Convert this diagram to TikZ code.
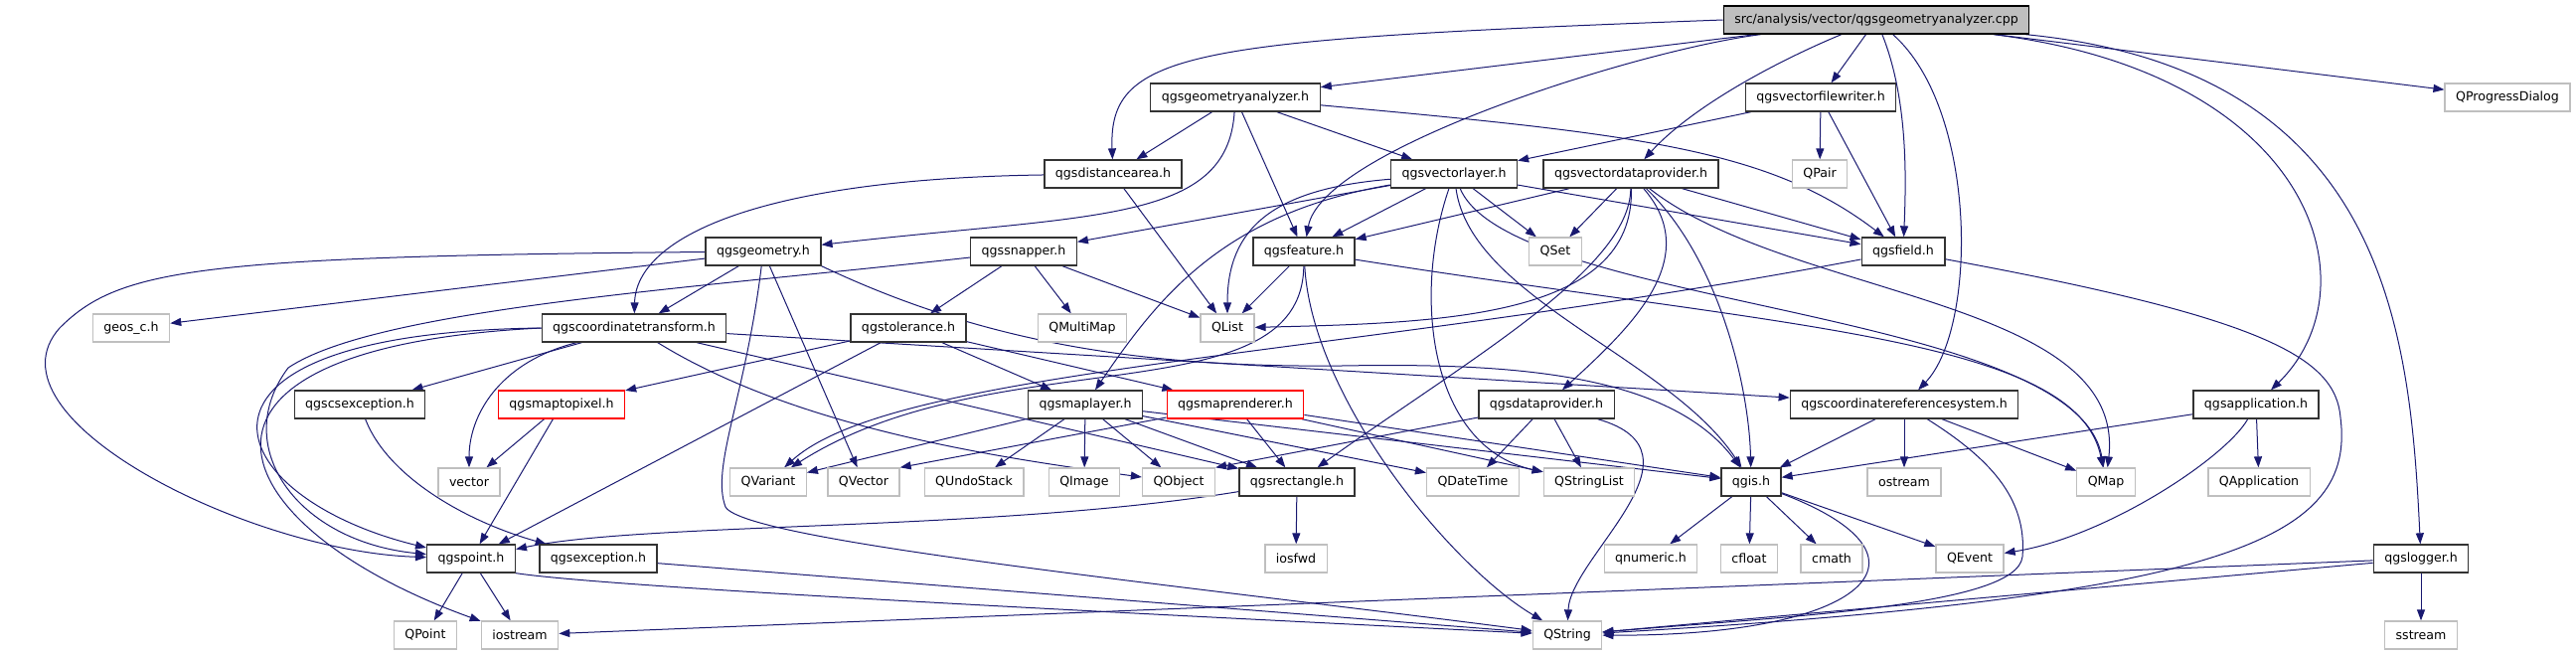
\documentclass[tikz,border=0pt]{standalone}
\usepackage{fontspec}
\setmainfont{DejaVu Sans}
\usepackage{tikz}
\usetikzlibrary{arrows.meta,backgrounds}
\definecolor{edgeblue}{RGB}{25,25,112}
\definecolor{sysgrey}{RGB}{191,191,191}
\definecolor{srcgrey}{RGB}{191,191,191}
\tikzset{
  incnode/.style={draw=black!80,fill=white,line width=1.3pt,minimum height=28pt,
                  inner xsep=11pt,inner ysep=0pt,font=\fontsize{12.6}{15}\selectfont},
  srcnode/.style={incnode,fill=srcgrey,draw=black},
  sysnode/.style={incnode,draw=sysgrey},
  rednode/.style={incnode,draw=red},
  dep/.style={-{Triangle[length=11pt,width=8pt]},draw=edgeblue,line width=1pt},
}

\begin{document}
\begin{tikzpicture}[x=1pt,y=-1pt]
  \useasboundingbox (0,0) rectangle (2592,659);

  \node[srcnode] (src) at (1888,20) {src/analysis/vector/qgsgeometryanalyzer.cpp};

  \node[incnode] (analyzer)   at (1243,98) {qgsgeometryanalyzer.h};
  \node[incnode] (filewriter) at (1832,98) {qgsvectorfilewriter.h};
  \node[sysnode] (progress)   at (2523,98) {QProgressDialog};

  \node[incnode] (distarea)  at (1120,175) {qgsdistancearea.h};
  \node[incnode] (vlayer)    at (1463,175) {qgsvectorlayer.h};
  \node[incnode] (vprovider) at (1641,175) {qgsvectordataprovider.h};
  \node[sysnode] (qpair)     at (1831,175) {QPair};

  \node[incnode] (geometry) at (768,253)  {qgsgeometry.h};
  \node[incnode] (snapper)  at (1030,253) {qgssnapper.h};
  \node[incnode] (feature)  at (1312,253) {qgsfeature.h};
  \node[sysnode] (qset)     at (1565,253) {QSet};
  \node[incnode] (field)    at (1915,253) {qgsfield.h};

  \node[sysnode] (geos)       at (132,330)  {geos\_c.h};
  \node[incnode] (ctransform) at (638,330)  {qgscoordinatetransform.h};
  \node[incnode] (tolerance)  at (914,330)  {qgstolerance.h};
  \node[sysnode] (qmultimap)  at (1089,330) {QMultiMap};
  \node[sysnode] (qlist)      at (1235,330) {QList};

  \node[incnode] (csexception) at (362,407)  {qgscsexception.h};
  \node[rednode] (maptopixel)  at (565,407)  {qgsmaptopixel.h};
  \node[incnode] (maplayer)    at (1092,407) {qgsmaplayer.h};
  \node[rednode] (renderer)    at (1243,407) {qgsmaprenderer.h};
  \node[incnode] (dprovider)   at (1556,407) {qgsdataprovider.h};
  \node[incnode] (crs)         at (1916,407) {qgscoordinatereferencesystem.h};
  \node[incnode] (application) at (2270,407) {qgsapplication.h};

  \node[sysnode] (vector)       at (472,485)  {vector};
  \node[sysnode] (qvariant)     at (773,485)  {QVariant};
  \node[sysnode] (qvector)      at (869,485)  {QVector};
  \node[sysnode] (qundostack)   at (980,485)  {QUndoStack};
  \node[sysnode] (qimage)       at (1091,485) {QImage};
  \node[sysnode] (qobject)      at (1186,485) {QObject};
  \node[incnode] (rectangle)    at (1305,485) {qgsrectangle.h};
  \node[sysnode] (qdatetime)    at (1482,485) {QDateTime};
  \node[sysnode] (qstringlist)  at (1599,485) {QStringList};
  \node[incnode] (qgis)         at (1762,485) {qgis.h};
  \node[sysnode] (ostream)      at (1916,485) {ostream};
  \node[sysnode] (qmap)         at (2119,485) {QMap};
  \node[sysnode] (qapplication) at (2273,485) {QApplication};

  \node[incnode] (point)     at (474,562)  {qgspoint.h};
  \node[incnode] (exception) at (602,562)  {qgsexception.h};
  \node[sysnode] (iosfwd)    at (1304,562) {iosfwd};
  \node[sysnode] (qnumeric)  at (1661,562) {qnumeric.h};
  \node[sysnode] (cfloat)    at (1760,562) {cfloat};
  \node[sysnode] (cmath)     at (1843,562) {cmath};
  \node[sysnode] (qevent)    at (1982,562) {QEvent};
  \node[incnode] (logger)    at (2436,562) {qgslogger.h};

  \node[sysnode] (qpoint)   at (428,639)  {QPoint};
  \node[sysnode] (iostream) at (523,639)  {iostream};
  \node[sysnode] (qstring)  at (1577,639) {QString};
  \node[sysnode] (sstream)  at (2436,639) {sstream};

  \begin{scope}[on background layer]
  \draw[dep] (src) -- (analyzer);
  \draw[dep] (src) -- (filewriter);
  \draw[dep] (src) -- (progress);
  \draw[dep] (src.west) .. controls (1200,40) and (1115,50) .. (distarea);
  \draw[dep] (src) .. controls (1650,50) and (1330,150) .. (feature);
  \draw[dep] (src) .. controls (1780,65) and (1700,110) .. (vprovider);
  \draw[dep] (src) .. controls (1920,100) and (1918,180) .. (field);
  \draw[dep] (src) .. controls (1990,110) and (1990,330) .. (crs);
  \draw[dep] (src) .. controls (2330,75) and (2390,290) .. (application);
  \draw[dep] (src) .. controls (2400,70) and (2425,330) .. (logger);

  \draw[dep] (analyzer) -- (distarea);
  \draw[dep] (analyzer) .. controls (1235,225) and (1100,215) .. (geometry);
  \draw[dep] (analyzer) -- (feature);
  \draw[dep] (analyzer) -- (vlayer);
  \draw[dep] (analyzer) .. controls (1650,135) and (1780,150) .. (field);

  \draw[dep] (filewriter) -- (vlayer);
  \draw[dep] (filewriter) -- (qpair);
  \draw[dep] (filewriter) -- (field);

  \draw[dep] (distarea) .. controls (760,180) and (640,240) .. (ctransform);
  \draw[dep] (distarea) -- (qlist);

  \draw[dep] (vlayer) -- (snapper);
  \draw[dep] (vlayer) .. controls (1280,190) and (1235,230) .. (qlist);
  \draw[dep] (vlayer) .. controls (1230,215) and (1165,300) .. (maplayer);
  \draw[dep] (vlayer) -- (feature);
  \draw[dep] (vlayer) .. controls (1420,300) and (1440,450) .. (qstringlist);
  \draw[dep] (vlayer) .. controls (1480,300) and (1680,360) .. (qgis);
  \draw[dep] (vlayer) .. controls (1520,310) and (2090,310) .. (qmap);
  \draw[dep] (vlayer) -- (qset);
  \draw[dep] (vlayer) -- (field);

  \draw[dep] (vprovider) -- (feature);
  \draw[dep] (vprovider) -- (qset);
  \draw[dep] (vprovider) .. controls (1645,320) and (1450,325) .. (qlist);
  \draw[dep] (vprovider) .. controls (1715,260) and (1640,330) .. (dprovider);
  \draw[dep] (vprovider) .. controls (1730,260) and (1760,390) .. (qgis);
  \draw[dep] (vprovider) .. controls (1800,300) and (2140,300) .. (qmap);
  \draw[dep] (vprovider) -- (field);
  \draw[dep] (vprovider) .. controls (1640,270) and (1480,360) .. (rectangle);

  \draw[dep] (feature) -- (qlist);
  \draw[dep] (feature) .. controls (1320,400) and (1460,570) .. (qstring);
  \draw[dep] (feature) .. controls (1800,330) and (2090,340) .. (qmap);
  \draw[dep] (feature) .. controls (1310,420) and (1000,340) .. (qvariant);

  \draw[dep] (field) .. controls (1350,360) and (900,370) .. (qvariant);
  \draw[dep] (field) .. controls (2280,320) and (2350,360) .. (2355,420)
                     .. controls (2370,540) and (2250,600) .. (qstring);

  \draw[dep] (geometry) -- (geos);
  \draw[dep] (geometry) .. controls (200,258) and (120,270) .. (60,330)
                        .. controls (-20,420) and (250,555) .. (point);
  \draw[dep] (geometry) -- (ctransform);
  \draw[dep] (geometry) -- (qvector);
  \draw[dep] (geometry) .. controls (750,400) and (715,470) .. (730,510)
                        .. controls (750,545) and (1200,590) .. (qstring);
  \draw[dep] (geometry.south east) .. controls (990,345) and (1150,370) .. (1350,368)
                        .. controls (1520,365) and (1680,375) .. (qgis);

  \draw[dep] (ctransform) -- (csexception);
  \draw[dep] (ctransform) .. controls (500,365) and (472,420) .. (vector);
  \draw[dep] (ctransform.west) .. controls (150,335) and (220,500) .. (point);
  \draw[dep] (ctransform.west) .. controls (140,350) and (220,530) .. (iostream);
  \draw[dep] (ctransform) -- (crs);
  \draw[dep] (ctransform) .. controls (800,430) and (1000,460) .. (qobject);
  \draw[dep] (ctransform) -- (rectangle);

  \draw[dep] (snapper) -- (tolerance);
  \draw[dep] (snapper) -- (qmultimap);
  \draw[dep] (snapper) -- (qlist);
  \draw[dep] (snapper) .. controls (700,290) and (380,310) .. (290,370)
                       .. controls (230,450) and (300,545) .. (point);

  \draw[dep] (tolerance) -- (maptopixel);
  \draw[dep] (tolerance) -- (point);
  \draw[dep] (tolerance) -- (maplayer);
  \draw[dep] (tolerance) -- (renderer);

  \draw[dep] (maptopixel) -- (vector);
  \draw[dep] (maptopixel) -- (point);
  \draw[dep] (csexception) .. controls (390,480) and (470,525) .. (exception);

  \draw[dep] (maplayer) -- (qvariant);
  \draw[dep] (maplayer) -- (qundostack);
  \draw[dep] (maplayer) -- (qimage);
  \draw[dep] (maplayer) -- (qobject);
  \draw[dep] (maplayer) -- (rectangle);
  \draw[dep] (maplayer) -- (qdatetime);
  \draw[dep] (maplayer) -- (qgis);

  \draw[dep] (renderer) -- (qvector.north east);
  \draw[dep] (renderer) -- (rectangle);
  \draw[dep] (renderer) -- (qstringlist);
  \draw[dep] (renderer) -- (qgis);

  \draw[dep] (dprovider) -- (qobject.north east);
  \draw[dep] (dprovider) -- (qdatetime);
  \draw[dep] (dprovider) -- (qstringlist);
  \draw[dep] (dprovider) .. controls (1725,455) and (1580,560) .. (qstring);

  \draw[dep] (crs) -- (qgis);
  \draw[dep] (crs) -- (ostream);
  \draw[dep] (crs) -- (qmap);
  \draw[dep] (crs) .. controls (2000,460) and (2040,500) .. (2035,560)
                   .. controls (2030,610) and (1800,620) .. (qstring);

  \draw[dep] (application) -- (qgis);
  \draw[dep] (application) -- (qapplication);
  \draw[dep] (application) .. controls (2240,460) and (2120,540) .. (qevent);

  \draw[dep] (qgis) -- (qnumeric);
  \draw[dep] (qgis) -- (cfloat);
  \draw[dep] (qgis) -- (cmath);
  \draw[dep] (qgis) -- (qevent);
  \draw[dep] (qgis) .. controls (1960,560) and (1880,640) .. (qstring);

  \draw[dep] (rectangle) -- (iosfwd);
  \draw[dep] (rectangle) .. controls (1000,535) and (650,525) .. (point);

  \draw[dep] (point) -- (qpoint);
  \draw[dep] (point) -- (iostream);
  \draw[dep] (point.south east) .. controls (620,592) and (1200,620) .. (qstring);
  \draw[dep] (exception) -- (qstring);

  \draw[dep] (logger) -- (iostream);
  \draw[dep] (logger) -- (qstring);
  \draw[dep] (logger) -- (sstream);
  \end{scope}
\end{tikzpicture}
\end{document}
